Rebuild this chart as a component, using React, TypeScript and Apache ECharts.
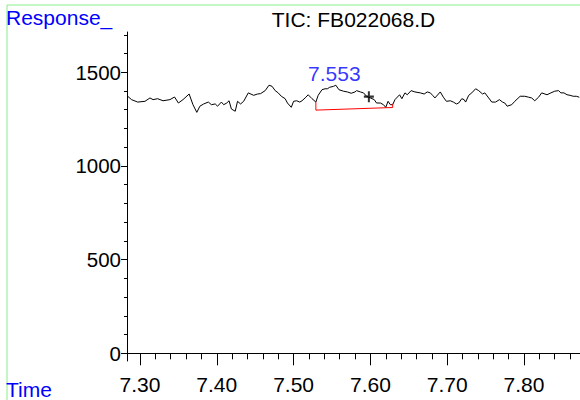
import React, { useEffect, useRef } from "react";
import * as echarts from "echarts";

const timeValues = [
  7.284, 7.289, 7.297, 7.3065, 7.313, 7.317, 7.323, 7.33, 7.339, 7.345, 7.35, 7.356, 7.364, 7.369, 7.374, 7.378,
  7.383, 7.389, 7.393, 7.398, 7.401, 7.406, 7.409, 7.413, 7.416, 7.419, 7.424, 7.427, 7.431, 7.435, 7.441, 7.448,
  7.453, 7.457, 7.463, 7.468, 7.472, 7.476, 7.48, 7.484, 7.489, 7.492, 7.497, 7.5, 7.504, 7.508, 7.511, 7.516,
  7.519, 7.524, 7.529, 7.532, 7.537, 7.541, 7.544, 7.547, 7.552, 7.555, 7.559, 7.565, 7.57, 7.575, 7.58, 7.582,
  7.587, 7.591, 7.595, 7.6, 7.605, 7.608, 7.613, 7.617, 7.62, 7.623, 7.626, 7.629, 7.632, 7.638, 7.641, 7.645,
  7.648, 7.653, 7.658, 7.665, 7.67, 7.674, 7.678, 7.681, 7.684, 7.691, 7.695, 7.699, 7.704, 7.708, 7.712, 7.715,
  7.719, 7.722, 7.724, 7.728, 7.732, 7.737, 7.741, 7.746, 7.749, 7.754, 7.758, 7.763, 7.768, 7.772, 7.775, 7.778,
  7.784, 7.788, 7.795, 7.801, 7.806, 7.81, 7.814, 7.819, 7.823, 7.83, 7.835, 7.84, 7.845, 7.848, 7.852, 7.856,
  7.86, 7.864, 7.868, 7.872,
];

const responseValues = [
  1372, 1354, 1341, 1345, 1363, 1354, 1359, 1348, 1354, 1368, 1336, 1354, 1384, 1327, 1286, 1319,
  1331, 1341, 1327, 1331, 1319, 1341, 1327, 1336, 1348, 1304, 1292, 1345, 1331, 1345, 1390, 1377,
  1384, 1386, 1402, 1431, 1425, 1402, 1390, 1372, 1359, 1336, 1313, 1345, 1348, 1341, 1348, 1367,
  1380, 1359, 1341, 1377, 1407, 1412, 1412, 1420, 1425, 1431, 1407, 1399, 1395, 1388, 1395, 1402,
  1395, 1390, 1372, 1363, 1354, 1336, 1336, 1327, 1313, 1345, 1327, 1327, 1354, 1380, 1359, 1390,
  1380, 1402, 1395, 1390, 1384, 1395, 1390, 1377, 1363, 1395, 1367, 1345, 1348, 1341, 1331, 1336,
  1359, 1354, 1341, 1377, 1390, 1412, 1402, 1384, 1390, 1363, 1341, 1341, 1354, 1341, 1336, 1319,
  1327, 1345, 1372, 1372, 1367, 1363, 1348, 1367, 1390, 1380, 1390, 1399, 1402, 1390, 1390, 1380,
  1377, 1372, 1372, 1367,
];

// Integration baseline of the peak (time, response)
const baselineTimes = [7.529, 7.529, 7.629, 7.629];
const baselineResponses = [1341, 1298, 1312, 1332];

const peakRT = 7.553;
const peakLabelResponse = 1431;
const markerTime = 7.598;
const markerResponse = 1370;

const xMajorTicks = [7.3, 7.4, 7.5, 7.6, 7.7, 7.8];
const xMinorTicks = [
  7.3, 7.32, 7.34, 7.36, 7.38, 7.4, 7.42, 7.44, 7.46, 7.48, 7.5, 7.52, 7.54, 7.56, 7.58, 7.6, 7.62, 7.64,
  7.66, 7.68, 7.7, 7.72, 7.74, 7.76, 7.78, 7.8, 7.82, 7.84, 7.86,
];
const yMajorTicks = [0, 500, 1000, 1500];
const yMinorTicks = [0, 100, 200, 300, 400, 500, 600, 700, 800, 900, 1000, 1100, 1200, 1300, 1400, 1500, 1600, 1700];

const titleText = "TIC: FB022068.D";
const yAxisName = "Response_";
const xAxisName = "Time";

const X_MIN = 7.2831;
const X_MAX = 7.8729;
const Y_MIN = -41.1;
const Y_MAX = 1715;

const FONT = "'Liberation Sans', Arial, sans-serif";

export default function App() {
  const ref = useRef<HTMLDivElement>(null);

  useEffect(() => {
    if (!ref.current) return;
    const chart = echarts.init(ref.current, undefined, { renderer: "svg" });

    const lineData = timeValues.map((t, i) => [t, responseValues[i]]);
    const baseData = baselineTimes.map((t, i) => [t, baselineResponses[i]]);

    const xCommon = {
      type: "value" as const,
      min: X_MIN,
      max: X_MAX,
      splitLine: { show: false },
    };
    const yCommon = {
      type: "value" as const,
      min: Y_MIN,
      max: Y_MAX,
      splitLine: { show: false },
    };

    chart.setOption({
      animation: false,
      backgroundColor: "#ffffff",
      textStyle: { fontFamily: FONT },
      grid: { left: 127, right: 0, top: 32, bottom: 39, containLabel: false },
      xAxis: [
        {
          ...xCommon,
          position: "bottom",
          axisLine: { show: true, lineStyle: { color: "#000", width: 1 } },
          axisTick: { show: true, length: 12, customValues: xMajorTicks, lineStyle: { color: "#000", width: 1 } },
          axisLabel: {
            show: true,
            customValues: xMajorTicks,
            formatter: (v: number) => v.toFixed(2),
            color: "#000",
            fontSize: 21,
            fontFamily: FONT,
            margin: 13,
          },
        },
        {
          ...xCommon,
          position: "bottom",
          axisLine: { show: false },
          axisTick: { show: true, length: 6, customValues: xMinorTicks, lineStyle: { color: "#000", width: 1 } },
          axisLabel: { show: false },
        },
      ],
      yAxis: [
        {
          ...yCommon,
          position: "left",
          axisLine: { show: true, lineStyle: { color: "#000", width: 1 } },
          axisTick: { show: true, length: 6, customValues: yMajorTicks, lineStyle: { color: "#000", width: 1 } },
          axisLabel: {
            show: true,
            customValues: yMajorTicks,
            formatter: (v: number) => String(Math.round(v)),
            color: "#000",
            fontSize: 20.5,
            fontFamily: FONT,
            margin: 6,
          },
        },
        {
          ...yCommon,
          position: "left",
          axisLine: { show: false },
          axisTick: { show: true, length: 3, customValues: yMinorTicks, lineStyle: { color: "#000", width: 1 } },
          axisLabel: { show: false },
        },
      ],
      graphic: [
        {
          type: "rect",
          shape: { x: 7, y: 5, width: 700, height: 500 },
          style: { fill: "none", stroke: "#88ee88", lineWidth: 1 },
          silent: true,
          z: -1,
        },
        {
          type: "text",
          x: 353.5,
          y: 19.2,
          style: {
            text: titleText,
            fill: "#000",
            font: `21px ${FONT}`,
            align: "center",
            verticalAlign: "middle",
          },
        },
        {
          type: "text",
          x: 6,
          y: 17.5,
          style: {
            text: yAxisName,
            fill: "#0000ff",
            font: `21px ${FONT}`,
            align: "left",
            verticalAlign: "middle",
          },
        },
        {
          type: "text",
          x: 6,
          y: 389,
          style: {
            text: xAxisName,
            fill: "#0000ff",
            font: `21px ${FONT}`,
            align: "left",
            verticalAlign: "middle",
          },
        },
      ],
      series: [
        {
          type: "line",
          xAxisIndex: 0,
          yAxisIndex: 0,
          data: lineData,
          showSymbol: false,
          symbol: "none",
          lineStyle: { color: "#000", width: 1 },
          silent: true,
        },
        {
          type: "line",
          xAxisIndex: 0,
          yAxisIndex: 0,
          data: baseData,
          showSymbol: false,
          symbol: "none",
          lineStyle: { color: "#ff0000", width: 1 },
          silent: true,
        },
        {
          type: "scatter",
          xAxisIndex: 0,
          yAxisIndex: 0,
          data: [[markerTime, markerResponse]],
          symbol: "path://M4,0h2v4h4v2h-4v4h-2v-4h-4v-2h4z",
          symbolSize: [10, 11],
          itemStyle: { color: "#000" },
          silent: true,
          z: 5,
        },
        {
          type: "scatter",
          xAxisIndex: 0,
          yAxisIndex: 0,
          data: [[peakRT, peakLabelResponse]],
          symbolSize: 0,
          itemStyle: { color: "rgba(0,0,0,0)" },
          label: {
            show: true,
            position: "top",
            distance: 1,
            formatter: () => peakRT.toFixed(3),
            color: "#0000ff",
            fontSize: 21,
            fontFamily: FONT,
          },
          silent: true,
        },
      ],
    });

    return () => chart.dispose();
  }, []);

  return (
    <div
      ref={ref}
      style={{ position: "fixed", left: 0, top: 0, width: 580, height: 400 }}
    />
  );
}
